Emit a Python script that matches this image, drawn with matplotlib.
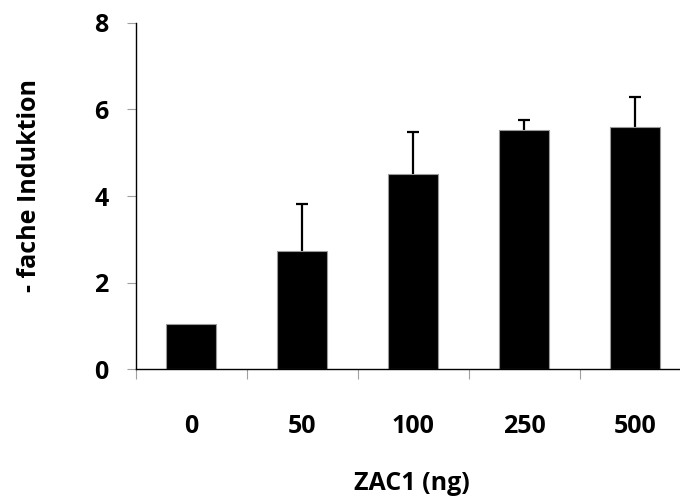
import matplotlib
matplotlib.use("Agg")
import matplotlib.pyplot as plt
import numpy as np

categories = ["0", "50", "100", "250", "500"]
values = [1.05, 2.73, 4.50, 5.53, 5.60]
err_up = [0.0, 1.08, 0.98, 0.22, 0.68]
yticks = [0, 2, 4, 6, 8]

plt.rcParams['font.family'] = ['Open Sans', 'DejaVu Sans']
plt.rcParams['font.weight'] = 'bold'

fig = plt.figure(figsize=(6.8, 4.97), dpi=100)
ax = fig.add_axes([135.5 / 680, 1 - 369.3 / 497, 555 / 680, (369.3 - 22.7) / 497])

x = np.arange(len(categories))
ax.bar(x, values, width=0.45, color="black", edgecolor="#9a9a9a", linewidth=0.8, zorder=2)

# only upward error bars, skip bars without error
has_err = np.array(err_up) > 0
_, caps, _ = ax.errorbar(x[has_err], np.array(values)[has_err],
                         yerr=[np.zeros(has_err.sum()), np.array(err_up)[has_err]],
                         fmt="none", ecolor="black", elinewidth=1.6, capthick=1.6,
                         capsize=4.5, zorder=1)
caps[0].set_visible(False)  # no cap at the bar top

ax.set_xlim(-0.5, len(categories) - 0.5)
ax.set_ylim(0, 8)
ax.set_yticks(yticks)
ax.set_yticklabels([str(t) for t in yticks], fontsize=18, fontweight="bold")
ax.set_xticks(x)
ax.set_xticklabels(categories, fontsize=18, fontweight="bold")
ax.set_xticks(np.arange(len(categories) + 1) - 0.5, minor=True)

ax.tick_params(axis="x", which="major", length=0, pad=32)
ax.tick_params(axis="x", which="minor", length=7, width=0.8, color="#a0a0a0", direction="out")
ax.tick_params(axis="y", which="major", length=6.5, width=0.8, color="#a0a0a0", pad=13)

for s in ["top", "right"]:
    ax.spines[s].set_visible(False)
ax.spines["left"].set_linewidth(1.0)
ax.spines["bottom"].set_linewidth(1.0)
ax.spines["bottom"].set_zorder(3)

fig.text(30 / 680, 1 - 186 / 497, "- fache Induktion", rotation=90, ha="center", va="center",
         fontsize=18, fontweight="bold")
fig.text(412 / 680, 1 - 484 / 497, "ZAC1 (ng)", ha="center", va="center",
         fontsize=18, fontweight="bold")

fig.savefig("out.png", dpi=100)
